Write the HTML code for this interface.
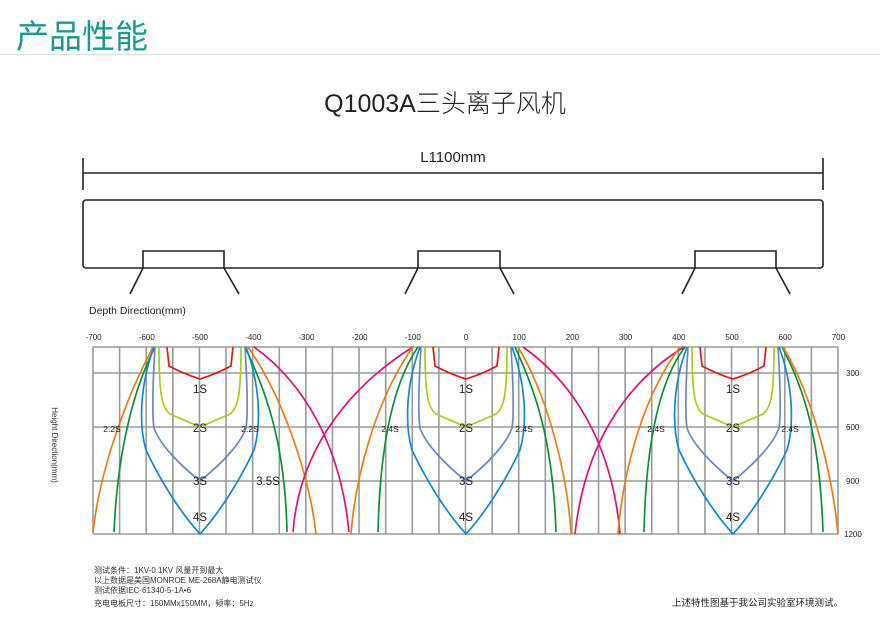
<!DOCTYPE html>
<html><head><meta charset="utf-8"><style>
html,body{margin:0;padding:0;background:#fff;}
svg{display:block;}
text{font-family:"Liberation Sans","Noto Sans CJK SC",sans-serif;}
</style></head><body>
<svg width="880" height="632" viewBox="0 0 880 632" xmlns="http://www.w3.org/2000/svg">
<text x="16" y="48" font-size="33" fill="#1a9a8c" font-family="Noto Sans CJK SC, sans-serif">产品性能</text>
<line x1="0" y1="54.5" x2="880" y2="54.5" stroke="#d3eadb" stroke-width="1.5"/>
<text x="445" y="112" font-size="25" fill="#222" text-anchor="middle" font-weight="300">Q1003A三头离子风机</text>
<text x="453" y="162" font-size="15" fill="#222" text-anchor="middle">L1100mm</text>
<g stroke="#222" stroke-width="1.6" fill="none">
<line x1="83" y1="173" x2="823" y2="173"/>
<line x1="83" y1="158" x2="83" y2="190"/>
<line x1="823" y1="158" x2="823" y2="190"/>
<rect x="83" y="200" width="740" height="68" rx="3"/>
<path d="M143,268 V251 H224 V268 M143,268 L130,294 M224,268 L239,294"/>
<path d="M418,268 V251 H500 V268 M418,268 L405,294 M500,268 L514,294"/>
<path d="M695,268 V251 H776 V268 M695,268 L682,294 M776,268 L790,294"/>
</g>
<text x="89" y="314" font-size="10.5" fill="#222">Depth Direction(mm)</text>
<g id="grid" stroke="#9a9a9a" stroke-width="1.6"></g>
<g font-size="8" fill="#222" text-anchor="middle" id="xl"></g>
<g font-size="8" fill="#222">
<text x="846" y="376">300</text><text x="846" y="430">600</text><text x="846" y="484">900</text><text x="844" y="537">1200</text>
</g>
<text transform="translate(52,445) rotate(90)" font-size="8" fill="#333" text-anchor="middle">Height Direction(mm)</text>
<g fill="none" stroke-width="1.7" id="curves">
<path stroke="#ed7d12" d="M153,347 C125,400 100,470 93,532"/>
<path stroke="#0c8f3a" d="M155,347 C138,380 118,440 114,532"/>
<path stroke="#0c8f3a" d="M245,347 C265,390 285,440 287,532"/>
<path stroke="#ed7d12" d="M248,347 C285,400 310,480 316,534"/>
<path stroke="#e0117a" d="M254,347 C300,380 340,440 349,532"/>
<path stroke="#e0117a" d="M413,347 C360,380 300,440 293,532"/>
<path stroke="#ed7d12" d="M413,347 C375,400 355,480 351,534"/>
<path stroke="#0c8f3a" d="M418,347 C395,380 380,440 378,532"/>
<path stroke="#0c8f3a" d="M515,347 C535,390 553,440 556,532"/>
<path stroke="#ed7d12" d="M518,347 C550,400 568,480 571,534"/>
<path stroke="#e0117a" d="M523,347 C570,380 612,440 620,534"/>
<path stroke="#e0117a" d="M684,347 C630,380 585,440 575,534"/>
<path stroke="#ed7d12" d="M680,347 C640,400 622,480 618,534"/>
<path stroke="#0c8f3a" d="M685,347 C660,380 646,440 644,532"/>
<path stroke="#0c8f3a" d="M782,347 C805,390 820,440 823,532"/>
<path stroke="#ed7d12" d="M783,347 C815,400 833,480 838,534"/>
</g>
<g font-size="11.5" fill="#222" text-anchor="middle" id="lbl">
<text x="112" y="432" font-size="8.5">2.2S</text><text x="250" y="432" font-size="8.5">2.2S</text>
<text x="268" y="485">3.5S</text>
<text x="390" y="432" font-size="8.5">2.4S</text><text x="524" y="432" font-size="8.5">2.4S</text>
<text x="656" y="432" font-size="8.5">2.4S</text><text x="790" y="432" font-size="8.5">2.4S</text>
</g>
<g font-size="8" fill="#333">
<text x="94" y="573">测试条件：1KV-0.1KV  风量开到最大</text>
<text x="94" y="583">以上数据是美国MONROE ME-268A静电测试仪</text>
<text x="94" y="593">测试依据IEC-61340-5-1A•6</text>
<text x="94" y="606">充电电板尺寸：150MMx150MM，频率：5Hz</text>
</g>
<text x="672" y="606" font-size="9.5" fill="#222">上述特性图基于我公司实验室环境测试。</text>
</svg>
<script>
var NS="http://www.w3.org/2000/svg";
function el(p,t,a,txt){var e=document.createElementNS(NS,t);for(var k in a)e.setAttribute(k,a[k]);if(txt)e.textContent=txt;p.appendChild(e);return e;}
var g=document.getElementById('grid');
for(var i=0;i<=28;i++){var x=93+i*745/28;el(g,'line',{x1:x,y1:347,x2:x,y2:534});}
[347,373,427,481,534].forEach(function(y){el(g,'line',{x1:93,y1:y,x2:838,y2:y});});
var xl=document.getElementById('xl');
for(var v=-700;v<=700;v+=100){el(xl,'text',{x:466+v*0.532,y:340},String(v));}
var cv=document.getElementById('curves'),lb=document.getElementById('lbl');
[200,466,733].forEach(function(c){
 var t=el(cv,'g',{transform:'translate('+c+',0)'});
 el(t,'path',{stroke:'#e3170f',d:'M-33,347 L-31,366 Q-16,374 0,379 Q16,374 31,366 L33,347'});
 el(t,'path',{stroke:'#a6ce14',d:'M-41,347 C-41,395 -38,408 -30,414 L0,427 L30,414 C38,408 41,395 41,347'});
 el(t,'path',{stroke:'#6f86c6',d:'M-45,347 C-47,380 -48,415 -46,428 C-40,445 -20,465 0,481 C20,465 40,445 46,428 C48,415 47,380 45,347'});
 el(t,'path',{stroke:'#1188d6',d:'M-46,347 C-62,390 -60,430 -54,450 C-40,480 -20,512 0,534 C20,512 40,480 54,450 C60,430 62,390 46,347'});
 el(lb,'text',{x:c,y:393},'1S');el(lb,'text',{x:c,y:432},'2S');el(lb,'text',{x:c,y:485},'3S');el(lb,'text',{x:c,y:521},'4S');
});
</script>
</body></html>
